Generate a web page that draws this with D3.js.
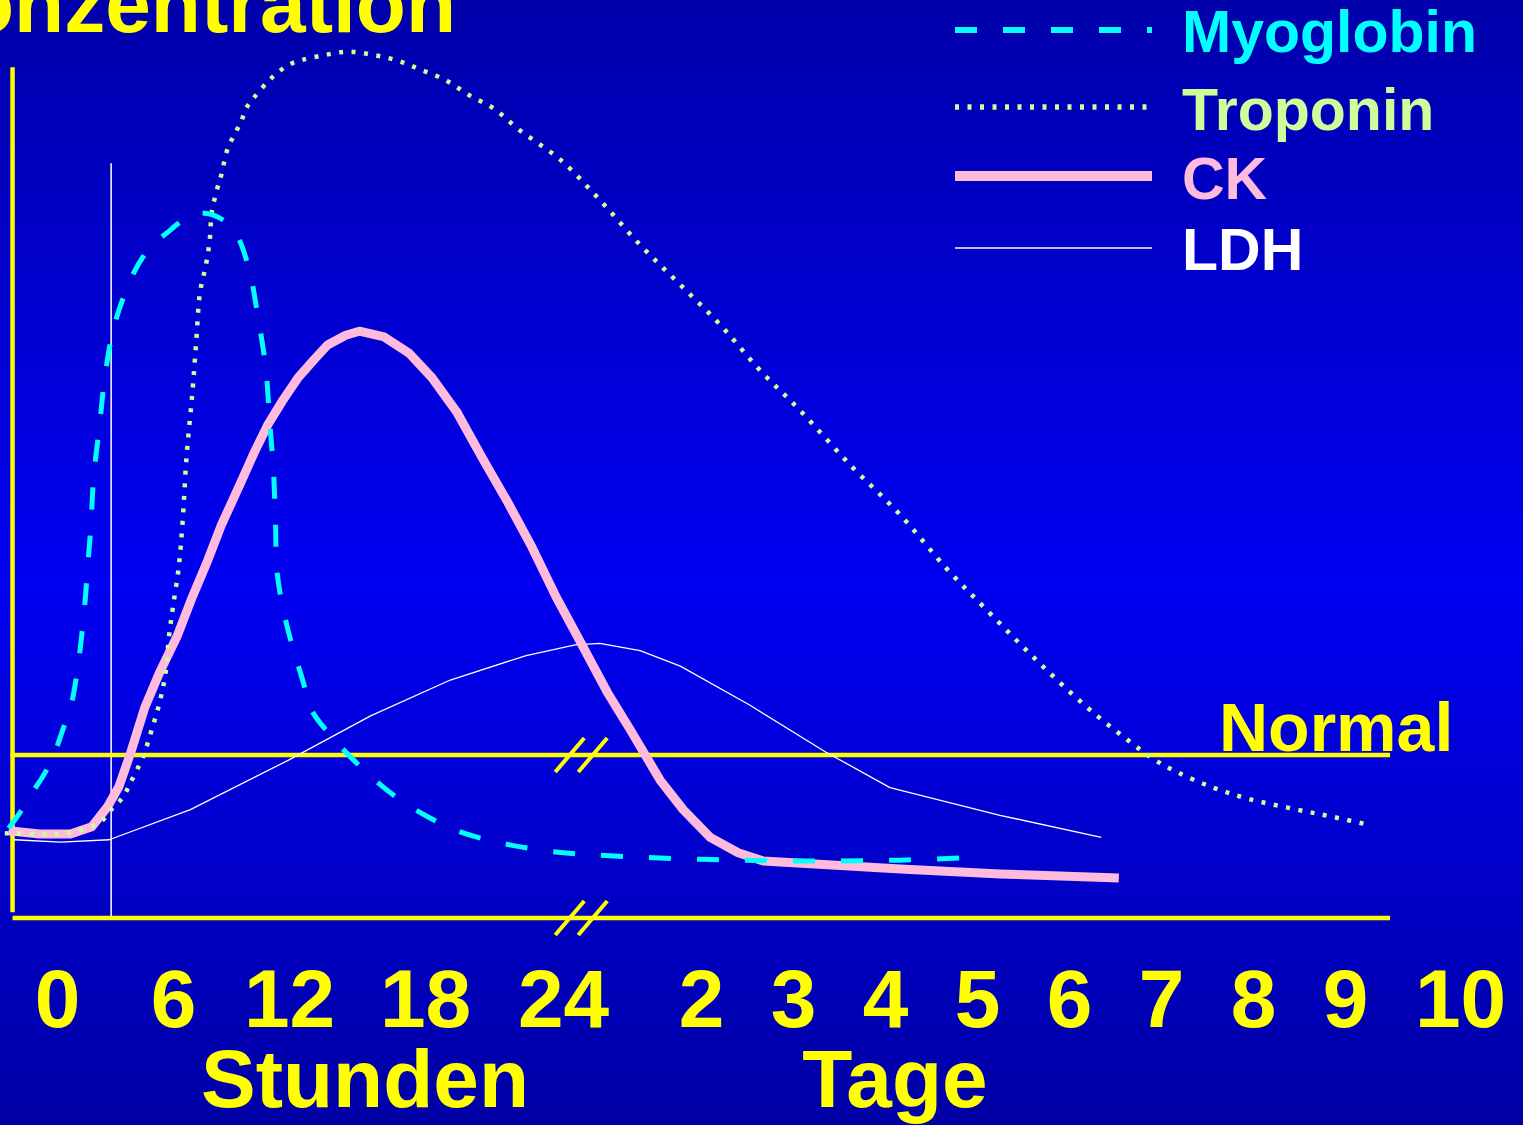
<!DOCTYPE html>
<html>
<head>
<meta charset="utf-8">
<script src="https://cdnjs.cloudflare.com/ajax/libs/d3/7.8.5/d3.min.js"></script>
<style>
  body { margin: 0; background: #0000aa; overflow: hidden; }
  text { font-family: "Liberation Sans", Arial, sans-serif; font-weight: bold; }
</style>
</head>
<body>
<script>
// Marker curves after myocardial infarction
// time is in hours everywhere, the days after the break are just 24 * day

var tickHours = [0, 6, 12, 18, 24, 48, 72, 96, 120, 144, 168, 192, 216, 240];
var seriesNames = ["Myoglobin", "Troponin", "CK", "LDH"];

// [hours, concentration], 20 = upper normal limit
var myoglobin = [
  [-2.5, 11.0], [-1.9, 13.0], [-1.3, 15.3], [-0.6, 17.9], [-0.1, 20.4], [0.3, 23.1],
  [0.7, 25.8], [1.0, 29.5], [1.2, 33.0], [1.45, 38.8], [1.6, 43.5], [1.75, 48.0], [1.9, 54.2],
  [2.2, 60.4], [2.5, 66.8], [3.0, 73.0], [4.0, 79.3], [4.8, 82.2], [5.7, 84.1],
  [6.7, 85.9], [7.4, 86.5], [8.4, 85.9], [9.2, 84.2], [9.9, 79.9], [10.4, 73.7],
  [10.8, 67.4], [11.0, 61.0], [11.2, 54.7], [11.3, 48.6], [11.4, 42.1], [11.9, 35.8],
  [12.6, 29.2], [13.0, 25.5], [13.8, 22.5], [14.7, 19.8], [15.8, 16.9], [16.9, 14.5],
  [18.2, 12.3], [19.5, 10.6], [21.3, 9.2], [23.4, 8.2], [30.4, 7.7], [47.8, 7.2],
  [73.8, 7.0], [99.9, 7.1], [121.6, 7.5]
];

var troponin = [
  [-2.7, 10.4], [-0.9, 10.3], [0.4, 10.4], [2.2, 11.7], [2.8, 13.3], [3.4, 14.8],
  [3.8, 16.6], [4.45, 19.8], [4.9, 23.1], [5.3, 26.4], [5.6, 29.8], [5.8, 34.7],
  [6.0, 38.2], [6.3, 43.1], [6.5, 48.7], [6.7, 56.6], [7.0, 64.4], [7.2, 70.7], [7.4, 76.8],
  [7.7, 80.1], [7.9, 83.2], [8.0, 86.5], [8.3, 89.6], [8.5, 91.2], [8.8, 94.2],
  [9.1, 95.8], [9.5, 97.6], [9.8, 99.4], [10.2, 100.7], [10.9, 102.6], [11.4, 103.7],
  [12.0, 104.7], [12.6, 105.3], [13.6, 105.9], [14.6, 106.3], [15.7, 105.9], [16.8, 105.2],
  [17.8, 104.1], [18.9, 102.8], [19.9, 101.0], [21.0, 99.3], [22.1, 96.7], [23.9, 93.0],
  [30.4, 88.1], [37.4, 82.6], [44.4, 77.7], [53.0, 72.8], [63.4, 67.2], [73.8, 62.3],
  [86.9, 55.6], [99.9, 49.5], [112.4, 42.7], [122.1, 38.0], [131.5, 33.5], [140.9, 29.2],
  [150.3, 25.2], [159.7, 21.7], [165.7, 19.6], [172.2, 17.9], [181.6, 16.0], [191.0, 14.6],
  [203.5, 13.3], [212.9, 12.4], [221.2, 11.4]
];

var ck = [
  [-2.5, 10.7], [-0.9, 10.3], [0.7, 10.3], [1.8, 11.2], [2.6, 13.6], [3.2, 16.1],
  [3.8, 20.2], [4.55, 25.9], [5.3, 30.1], [6.2, 34.5], [7.0, 39.4], [7.8, 43.9],
  [8.5, 48.2], [9.5, 53.4], [10.2, 57.1], [10.9, 60.5], [11.7, 63.6], [12.4, 66.3],
  [13.1, 68.5], [13.7, 70.3], [14.5, 71.5], [15.1, 72.0], [16.2, 71.3], [17.3, 69.3],
  [18.3, 66.3], [19.4, 62.0], [20.5, 56.4], [21.6, 51.0], [22.65, 45.5], [23.7, 39.4],
  [27.3, 33.5], [31.7, 27.7], [35.7, 23.1], [38.3, 20.0], [40.9, 16.9], [44.9, 13.3],
  [50.4, 9.9], [57.7, 8.0], [64.2, 7.0], [100, 6.0], [126, 5.4], [157, 4.9]
];

var ldh = [
  [-2.2, 9.6], [0.2, 9.3], [2.7, 9.6], [6.9, 13.3], [12.0, 19.4], [15.6, 24.8],
  [19.1, 29.2], [22.4, 32.2], [26.1, 33.5], [30.4, 33.7], [37.4, 32.8], [44.4, 30.9],
  [60.8, 26.1], [80.4, 20.4], [97.3, 16.0], [126, 12.6], [152.4, 9.9]
];

var normalLevel = 20;
var onsetHour = 2.8, onsetTop = 92.6;
var breakHour = 27;
var axisStart = -2.3, axisEnd = 225.4, axisTop = 104.4;

var width = 1523,
    height = 1125;

var svg = d3.select("body").append("svg")
    .attr("width", width)
    .attr("height", height);

var grad = svg.append("defs").append("linearGradient")
    .attr("id", "bg")
    .attr("x1", 0).attr("y1", 0).attr("x2", 0).attr("y2", 1);
grad.append("stop").attr("offset", "0%").attr("stop-color", "#0000aa");
grad.append("stop").attr("offset", "52%").attr("stop-color", "#0000f2");
grad.append("stop").attr("offset", "100%").attr("stop-color", "#0000a4");

svg.append("rect")
    .attr("width", width)
    .attr("height", height)
    .attr("fill", "url(#bg)");

// piecewise scale: hours on the left, days on the right of the break
var x = d3.scaleLinear()
    .domain(tickHours)
    .range([57, 173, 289, 425, 563, 701, 793, 885, 977, 1069, 1161, 1253, 1345, 1460]);

var y = d3.scaleLinear()
    .domain([0, 100])
    .range([918, 103]);

var yellow = "#ffff00";

// title, mostly pushed off the top edge like on the slide
svg.append("text")
    .attr("x", 456)
    .attr("y", 32)
    .attr("text-anchor", "end")
    .attr("font-size", 82)
    .attr("fill", yellow)
    .text("Konzentration");

// white marker line for the onset
svg.append("line")
    .attr("x1", x(onsetHour)).attr("x2", x(onsetHour))
    .attr("y1", y(onsetTop)).attr("y2", y(0))
    .attr("stroke", "#ffffff")
    .attr("stroke-width", 1.5);

// axes and normal limit
svg.append("line")
    .attr("x1", x(axisStart)).attr("x2", x(axisStart))
    .attr("y1", y(axisTop)).attr("y2", y(0.7))
    .attr("stroke", yellow)
    .attr("stroke-width", 4.5);

svg.append("line")
    .attr("x1", x(axisStart)).attr("x2", x(axisEnd))
    .attr("y1", y(0)).attr("y2", y(0))
    .attr("stroke", yellow)
    .attr("stroke-width", 4.5);

svg.append("line")
    .attr("x1", x(-2.4)).attr("x2", x(axisEnd))
    .attr("y1", y(normalLevel)).attr("y2", y(normalLevel))
    .attr("stroke", yellow)
    .attr("stroke-width", 4.5);

svg.append("text")
    .attr("x", 1219)
    .attr("y", 751)
    .attr("font-size", 68)
    .attr("fill", yellow)
    .text("Normal");

var xAxis = d3.axisBottom(x)
    .tickValues(tickHours)
    .tickFormat(function(h) { return h < 48 ? h : h / 24; })
    .tickSize(0)
    .tickPadding(51);

var gx = svg.append("g")
    .attr("transform", "translate(0," + y(0) + ")")
    .call(xAxis);
gx.select(".domain").remove();
gx.attr("font-size", 82)
    .attr("font-family", "'Liberation Sans', Arial, sans-serif")
    .attr("font-weight", "bold");
gx.selectAll("text").attr("fill", yellow);

svg.append("text")
    .attr("x", 365)
    .attr("y", 1107)
    .attr("text-anchor", "middle")
    .attr("font-size", 82)
    .attr("fill", yellow)
    .text("Stunden");

svg.append("text")
    .attr("x", 895)
    .attr("y", 1107)
    .attr("text-anchor", "middle")
    .attr("font-size", 82)
    .attr("fill", yellow)
    .text("Tage");

// the curves
var line = d3.line()
    .x(function(d) { return x(d[0]); })
    .y(function(d) { return y(d[1]); });

var smooth = d3.line()
    .x(function(d) { return x(d[0]); })
    .y(function(d) { return y(d[1]); })
    .curve(d3.curveCatmullRom.alpha(0.5));

var styles = {
  Myoglobin: { color: "#00ffff", width: 5, dash: "22 26" },
  Troponin:  { color: "#ccff99", width: 4.5, dash: "4 8.5" },
  CK:        { color: "#ffbbdd", width: 9, dash: null },
  LDH:       { color: "#ffffff", width: 1.3, dash: null }
};

function drawSeries(data, name, gen) {
  var s = styles[name];
  svg.append("path")
      .datum(data)
      .attr("d", gen)
      .attr("fill", "none")
      .attr("stroke", s.color)
      .attr("stroke-width", s.width)
      .attr("stroke-dasharray", s.dash)
      .attr("stroke-linejoin", "round");
}

drawSeries(ldh, "LDH", line);
drawSeries(ck, "CK", line);
drawSeries(troponin, "Troponin", smooth);
drawSeries(myoglobin, "Myoglobin", smooth);

// axis break marks "//"
[normalLevel, 0].forEach(function(v) {
  var cx = x(breakHour), cy = y(v);
  [-10.5, 12.5].forEach(function(o) {
    svg.append("line")
        .attr("x1", cx + o - 14.5).attr("y1", cy + 17)
        .attr("x2", cx + o + 14.5).attr("y2", cy - 17)
        .attr("stroke", yellow)
        .attr("stroke-width", 4);
  });
});

// legend
var legendY = [30, 107, 176, 248],
    legendTextY = [52, 130, 199, 270];

var legend = svg.append("g").selectAll("g")
    .data(seriesNames)
  .enter().append("g");

legend.append("line")
    .attr("x1", 955).attr("x2", 1152)
    .attr("y1", function(d, i) { return legendY[i]; })
    .attr("y2", function(d, i) { return legendY[i]; })
    .attr("stroke", function(d) { return styles[d].color; })
    .attr("stroke-width", function(d) { return d === "LDH" ? 1.5 : styles[d].width + 1; })
    .attr("stroke-dasharray", function(d) { return styles[d].dash; });

legend.append("text")
    .attr("x", 1182)
    .attr("y", function(d, i) { return legendTextY[i]; })
    .attr("font-size", 59)
    .attr("fill", function(d) { return styles[d].color; })
    .text(function(d) { return d; });
</script>
</body>
</html>
